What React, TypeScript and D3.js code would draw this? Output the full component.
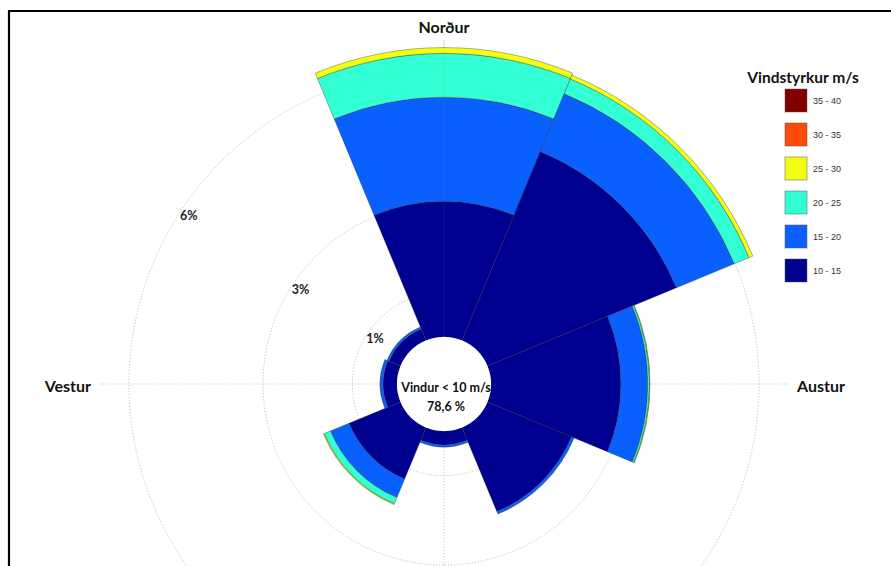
import React from "react";
import * as d3 from "d3";

const directions = ["N", "NE", "E", "SE", "S", "SW", "W", "NW"];
const speedBins = ["10 - 15", "15 - 20", "20 - 25", "25 - 30", "30 - 35", "35 - 40"];
const binColors = ["#000090", "#0a60ff", "#33ffd5", "#f2ff14", "#ff4a0a", "#800000"];
const s10_15 = [3.04, 4.58, 2.91, 2.04, 0.31, 1.25, 0.31, 0.28];
const s15_20 = [2.33, 1.4, 0.6, 0.06, 0.05, 0.45, 0.07, 0.05];
const s20_25 = [0.98, 0.36, 0.04, 0, 0, 0.15, 0, 0];
const s25_30 = [0.13, 0.09, 0.012, 0, 0, 0.02, 0, 0];
const s30_35 = [0, 0, 0, 0, 0, 0, 0, 0];
const s35_40 = [0, 0, 0, 0, 0, 0, 0, 0];
const series = [s10_15, s15_20, s20_25, s25_30, s30_35, s35_40];
const ringTicks = [1, 3, 6];
const ringLabels = ["1%", "3%", "6%"];
const compass = [
  { label: "Norður", angle: 0 },
  { label: "Austur", angle: 90 },
  { label: "Vestur", angle: 270 },
];
const calmLabel = "Vindur < 10 m/s";
const calmValue = "78,6 %";
const legendTitle = "Vindstyrkur m/s";

const W = 891;
const H = 566;
const cx = 444;
const cy = 384;
const FONT = "Lato, 'Open Sans', Arial, sans-serif";

export default function App() {
  const r = d3.scaleLinear().domain([0, 6]).range([47, 315]);
  const step = (2 * Math.PI) / directions.length;
  const arc = d3.arc<any>();

  const segments: any[] = [];
  directions.forEach((dir, i) => {
    let acc = 0;
    series.forEach((s, j) => {
      const v = s[i];
      if (v > 0) {
        segments.push({
          key: dir + j,
          d: arc({
            innerRadius: r(acc),
            outerRadius: r(acc + v),
            startAngle: i * step - step / 2,
            endAngle: i * step + step / 2,
          }),
          color: binColors[j],
        });
      }
      acc += v;
    });
  });

  const labelAngle = (303.5 * Math.PI) / 180;
  const axisLen = 344;

  return (
    <svg
      width={W}
      height={H}
      style={{ position: "absolute", left: 0, top: 0, background: "#fff" }}
      fontFamily={FONT}
    >
      <rect x={0} y={0} width={W} height={H} fill="#fff" />
      {/* frame */}
      <line x1={8} y1={11} x2={W} y2={11} stroke="#000" strokeWidth={2.2} />
      <line x1={9} y1={10} x2={9} y2={H} stroke="#000" strokeWidth={2.2} />

      <g transform={`translate(${cx},${cy})`}>
        {/* grid under */}
        {ringTicks.map((t) => (
          <circle key={t} r={r(t)} fill="none" stroke="#c8c8c8" strokeWidth={1} strokeDasharray="1.2,1.8" />
        ))}
        <line x1={-axisLen} y1={0} x2={axisLen} y2={0} stroke="#c8c8c8" strokeDasharray="1.2,1.8" />
        <line x1={0} y1={-axisLen} x2={0} y2={axisLen} stroke="#c8c8c8" strokeDasharray="1.2,1.8" />

        {segments.map((s) => (
          <path key={s.key} d={s.d} fill={s.color} stroke="#2a2a2a" strokeWidth={0.6} strokeOpacity={0.6} />
        ))}

        {/* faint grid over */}
        {ringTicks.map((t) => (
          <circle key={"o" + t} r={r(t)} fill="none" stroke="#888" strokeOpacity={0.08} strokeWidth={1} strokeDasharray="1.2,1.8" />
        ))}
        <line x1={0} y1={-axisLen} x2={0} y2={0} stroke="#888" strokeOpacity={0.12} />

        <circle r={r(0)} fill="#fff" />

        {ringTicks.map((t, i) => {
          const rr = r(t) - 9;
          return (
            <text
              key={"l" + t}
              x={rr * Math.sin(labelAngle)}
              y={-rr * Math.cos(labelAngle)}
              textAnchor="middle"
              dominantBaseline="central"
              fontSize={12.5}
              fontWeight="bold"
              fill="#222"
            >
              {ringLabels[i]}
            </text>
          );
        })}

        <text x={2} y={3} textAnchor="middle" dominantBaseline="central" fontSize={12.5} fontWeight="bold" fill="#111">
          {calmLabel}
        </text>
        <text x={2} y={22} textAnchor="middle" dominantBaseline="central" fontSize={12.5} fontWeight="bold" fill="#111">
          {calmValue}
        </text>
      </g>

      {/* compass labels */}
      {compass.map((c) => {
        const a = (c.angle * Math.PI) / 180;
        const rr = c.angle === 0 ? 358 : 353;
        const x = cx + rr * Math.sin(a);
        const y = cy - rr * Math.cos(a);
        const anchor = c.angle === 0 ? "middle" : c.angle === 90 ? "start" : "end";
        return (
          <text
            key={c.label}
            x={x}
            y={c.angle === 0 ? y : y + 1}
            textAnchor={anchor}
            dominantBaseline="central"
            fontSize={16}
            fontWeight="bold"
            fill="#111"
          >
            {c.label}
          </text>
        );
      })}

      {/* legend */}
      <text x={803} y={77} textAnchor="middle" dominantBaseline="central" fontSize={15.5} fontWeight="bold" fill="#111">
        {legendTitle}
      </text>
      {speedBins
        .map((b, j) => ({ b, j }))
        .reverse()
        .map(({ b, j }, k) => (
          <g key={b} transform={`translate(785,${89 + k * 34})`}>
            <rect width={22} height={23} fill={binColors[j]} stroke="#555" strokeOpacity={0.5} strokeWidth={1} />
            <text x={28} y={11.5} dominantBaseline="central" fontSize={9} fill="#333" fontFamily="Arial, 'Liberation Sans', sans-serif">
              {b}
            </text>
          </g>
        ))}
    </svg>
  );
}
